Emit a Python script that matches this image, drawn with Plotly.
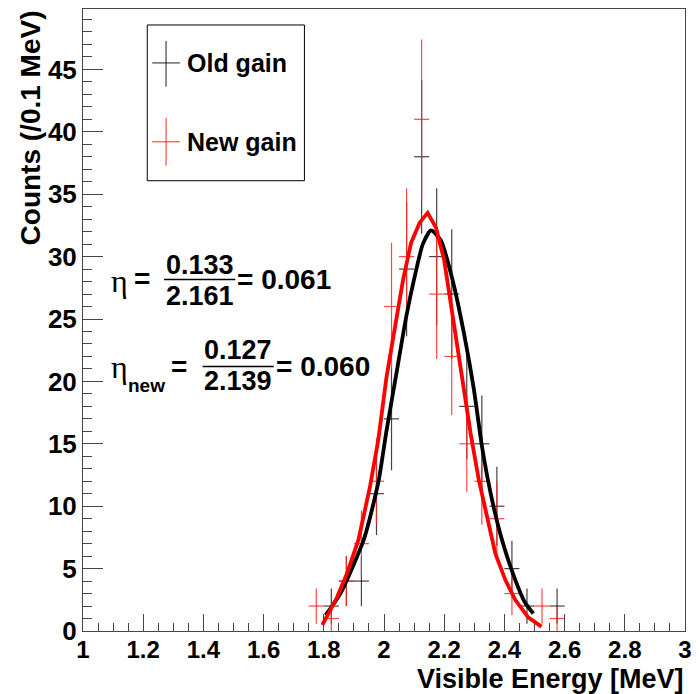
import math
import plotly.graph_objects as go

# ---------------- data ----------------
bin_centers = [1.775, 1.825, 1.875, 1.925, 1.975, 2.025, 2.075, 2.125, 2.175,
               2.225, 2.275, 2.325, 2.375, 2.425, 2.475, 2.525, 2.575]
old_counts = [0, 2, 4, 4, 11, 17, 29, 38, 30, 27, 18, 15, 10, 5, 2, 0, 2]
new_counts = [2, 1, 4, 7, 12, 26, 30, 41, 27, 22, 15, 12, 9, 3, 0, 2, 1]
bin_half_width = 0.025

old_fit_x = [1.806, 1.855, 1.934, 1.981, 2.008, 2.041, 2.074, 2.101, 2.129, 2.156,
             2.189, 2.228, 2.266, 2.299, 2.326, 2.359, 2.392, 2.436, 2.468, 2.496]
old_fit_y = [1.28, 3.0, 7.4, 11.9, 16.0, 20.6, 25.2, 28.3, 31.0, 32.1,
             31.3, 28.1, 23.8, 19.3, 14.7, 10.5, 7.3, 4.1, 2.3, 1.4]

new_fit_x = [1.795, 1.844, 1.877, 1.915, 1.953, 1.981, 2.008, 2.041, 2.063, 2.090,
             2.118, 2.145, 2.173, 2.200, 2.227, 2.255, 2.288, 2.315, 2.348, 2.370,
             2.403, 2.436, 2.479, 2.523]
new_fit_y = [0.48, 2.7, 4.6, 7.3, 11.5, 15.3, 20.3, 24.9, 28.1, 31.1,
             32.7, 33.5, 32.3, 29.7, 25.4, 21.1, 15.8, 12.1, 8.6, 6.2,
             4.1, 2.5, 1.1, 0.35]

series_names = ["Old gain", "New gain"]
x_ticks = [1, 1.2, 1.4, 1.6, 1.8, 2, 2.2, 2.4, 2.6, 2.8, 3]
y_ticks = [0, 5, 10, 15, 20, 25, 30, 35, 40, 45]

# ---------------- layout helpers ----------------
W, H = 700, 694
L, R, T, B = 83, 692, 8, 631


def px(x):
    return (x - L) / (R - L)


def py(y):
    return (B - y) / (B - T)


BLACK_ERR = "rgba(20,20,20,0.8)"
RED_ERR = "rgba(255,40,40,0.85)"
FONT = "Liberation Sans"

fig = go.Figure()


def add_hist(counts, color):
    xs = [c for c, n in zip(bin_centers, counts) if n > 0]
    ys = [n for n in counts if n > 0]
    errs = [math.sqrt(n) for n in ys]
    fig.add_trace(go.Scatter(
        x=xs, y=ys, mode="markers",
        marker=dict(size=1, color=color),
        error_y=dict(type="data", array=errs, thickness=1.2, width=0, color=color),
        error_x=dict(type="constant", value=bin_half_width, thickness=1.2, width=0, color=color),
        showlegend=False, hoverinfo="skip",
    ))


add_hist(old_counts, BLACK_ERR)
add_hist(new_counts, RED_ERR)

fig.add_trace(go.Scatter(x=old_fit_x, y=old_fit_y, mode="lines",
                         line=dict(color="black", width=3.8, shape="spline", smoothing=0.6),
                         showlegend=False, hoverinfo="skip"))
fig.add_trace(go.Scatter(x=new_fit_x, y=new_fit_y, mode="lines",
                         line=dict(color="#ff0000", width=3.8),
                         showlegend=False, hoverinfo="skip"))

axis_line = "rgb(70,70,70)"
fig.update_xaxes(
    range=[1, 3], tickvals=x_ticks, ticktext=[f"{v:g}" for v in x_ticks],
    ticks="inside", ticklen=17, tickwidth=1, tickcolor=axis_line,
    minor=dict(dtick=0.05, tick0=1, ticks="inside", ticklen=8, tickwidth=1, tickcolor=axis_line),
    showline=True, mirror=True, linecolor=axis_line, linewidth=1,
    showgrid=False, zeroline=False,
    ticklabelstandoff=-3,
    tickfont=dict(family=FONT, size=24, color="black", weight="bold"),
)
fig.update_yaxes(
    range=[0, (B - T) / 12.5], tickvals=y_ticks, ticktext=[str(v) for v in y_ticks],
    ticks="inside", ticklen=20, tickwidth=1, tickcolor=axis_line,
    minor=dict(dtick=1, tick0=0, ticks="inside", ticklen=9, tickwidth=1, tickcolor=axis_line),
    showline=True, mirror=True, linecolor=axis_line, linewidth=1,
    showgrid=False, zeroline=False,
    tickfont=dict(family=FONT, size=26, color="black", weight="bold"),
)

shapes = []
annotations = []

# axis titles
annotations.append(dict(text="Counts (/0.1 MeV)", xref="paper", yref="paper",
                        x=px(30), y=py(127), xanchor="center", yanchor="middle",
                        textangle=-90, showarrow=False,
                        font=dict(family=FONT, size=28, color="black", weight="bold")))
annotations.append(dict(text="Visible Energy [MeV]", xref="paper", yref="paper",
                        x=px(693), y=py(679), xanchor="right", yanchor="middle",
                        showarrow=False,
                        font=dict(family=FONT, size=27, color="black", weight="bold")))

# legend box
shapes.append(dict(type="rect", xref="paper", yref="paper",
                   x0=px(148), x1=px(307), y0=py(180), y1=py(24),
                   line=dict(color="black", width=1), fillcolor="white", layer="below"))
for name, color, cy, vy0, vy1 in [(series_names[0], BLACK_ERR, 62, 40, 86),
                                  (series_names[1], RED_ERR, 141, 117, 165)]:
    shapes.append(dict(type="line", xref="paper", yref="paper",
                       x0=px(153), x1=px(181), y0=py(cy), y1=py(cy),
                       line=dict(color=color, width=1.2)))
    shapes.append(dict(type="line", xref="paper", yref="paper",
                       x0=px(167), x1=px(167), y0=py(vy0), y1=py(vy1),
                       line=dict(color=color, width=1.2)))
    annotations.append(dict(text=name, xref="paper", yref="paper",
                            x=px(186), y=py(cy), xanchor="left", yanchor="middle",
                            showarrow=False,
                            font=dict(family=FONT, size=25, color="black", weight="bold")))

bold = dict(family=FONT, size=28, color="black", weight="bold")
frac = dict(family=FONT, size=27, color="black", weight="bold")
greek = dict(family="Liberation Serif", size=32, color="black")


def txt(text, x, y, font, xanchor="center"):
    annotations.append(dict(text=text, xref="paper", yref="paper", x=px(x), y=py(y),
                            xanchor=xanchor, yanchor="middle", showarrow=False,
                            font=font, borderpad=0))


# eta (old)
txt("η", 110, 280, greek, "left")
txt("=", 143, 278, bold)
txt("0.133", 201, 264, frac)
txt("2.161", 201, 295, frac)
shapes.append(dict(type="line", xref="paper", yref="paper", x0=px(165), x1=px(237),
                   y0=py(279), y1=py(279), line=dict(color="black", width=1.5)))
txt("= 0.061", 238, 279, bold, "left")

# eta (new)
txt("η", 110, 367, greek, "left")
txt("new", 128, 385, dict(family=FONT, size=19, color="black", weight="bold"), "left")
txt("=", 180, 366, bold)
txt("0.127", 240, 350, frac)
txt("2.139", 240, 381, frac)
shapes.append(dict(type="line", xref="paper", yref="paper", x0=px(204), x1=px(276),
                   y0=py(366), y1=py(366), line=dict(color="black", width=1.5)))
txt("= 0.060", 277, 366, bold, "left")

fig.update_layout(
    width=W, height=H,
    margin=dict(l=L, r=W - R, t=T, b=H - B, pad=0),
    paper_bgcolor="white", plot_bgcolor="white",
    shapes=shapes, annotations=annotations, showlegend=False,
    hovermode=False,
)

fig.write_html("out.html", config={"displayModeBar": False, "staticPlot": True})

# remove the browser's default body margin so the figure sits at the page origin
with open("out.html", encoding="utf-8") as f:
    html = f.read()
html = html.replace("<body>", '<body style="margin:0;padding:0;overflow:hidden">', 1)
with open("out.html", "w", encoding="utf-8") as f:
    f.write(html)
